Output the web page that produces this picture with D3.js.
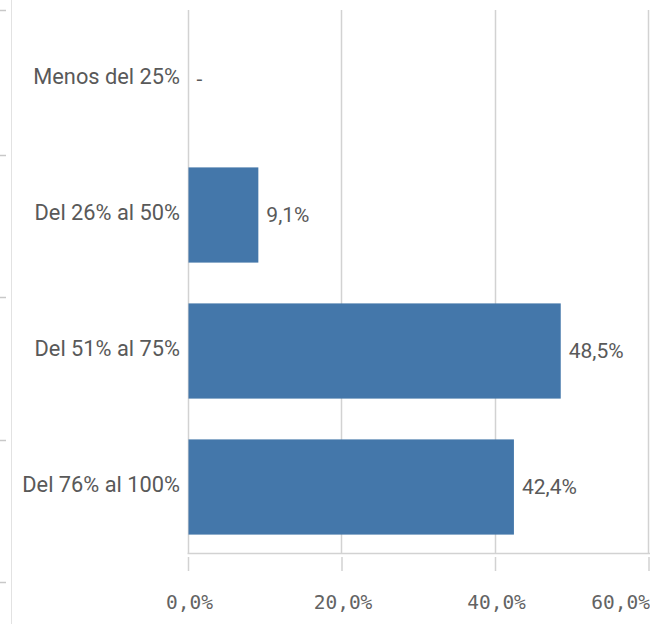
<!DOCTYPE html>
<html>
<head>
<meta charset="utf-8">
<script src="https://cdn.jsdelivr.net/npm/d3@7"></script>
<style>
  html, body { margin: 0; padding: 0; background: #ffffff; }
  svg { display: block; }
</style>
</head>
<body>
<svg id="chart" width="650" height="624"></svg>
<script>
const categories = ["Menos del 25%", "Del 26% al 50%", "Del 51% al 75%", "Del 76% al 100%"];
const values = [null, 9.1, 48.5, 42.4];
const xTicks = [0, 20, 40, 60];

const W = 650, H = 624;
const svg = d3.select("#chart");
const textColor = "#595959";
const gridColor = "#d2d2d2";
const barColor = "#4477aa";

const fmt = v => d3.format(".1f")(v).replace(".", ",") + "%";

const x = d3.scaleLinear().domain([0, 60]).range([188.5, 649]);
const y = d3.scaleBand().domain(categories).range([11, 555]).paddingInner(0.3).paddingOuter(0.15);

const plotTop = 10, plotBottom = 553;

// left-edge fragment of neighbouring panel
svg.append("line").attr("x1", 11.5).attr("x2", 11.5).attr("y1", 0).attr("y2", H)
  .attr("stroke", "#e2e2e2").attr("stroke-width", 1);
[10, 155, 297, 440, 582].forEach(t => {
  svg.append("line").attr("x1", 0).attr("x2", 6).attr("y1", t + 0.5).attr("y2", t + 0.5)
    .attr("stroke", "#c8c8c8").attr("stroke-width", 1.5);
});

// gridlines
const g = svg.append("g");
g.selectAll("line.grid").data(xTicks).join("line")
  .attr("class", "grid")
  .attr("x1", d => Math.round(x(d)) - 0.5).attr("x2", d => Math.round(x(d)) - 0.5)
  .attr("y1", plotTop).attr("y2", plotBottom)
  .attr("stroke", gridColor).attr("stroke-width", 1.5);

// bars
g.selectAll("rect.bar").data(categories.map((c, i) => ({c, v: values[i]})).filter(d => d.v != null)).join("rect")
  .attr("class", "bar")
  .attr("x", x(0))
  .attr("y", d => y(d.c))
  .attr("width", d => x(d.v) - x(0))
  .attr("height", y.bandwidth())
  .attr("fill", barColor);

// value labels
g.selectAll("text.val").data(categories.map((c, i) => ({c, v: values[i]}))).join("text")
  .attr("class", "val")
  .attr("x", d => (d.v == null ? x(0) : x(d.v)) + 8)
  .attr("y", d => y(d.c) + y.bandwidth() / 2 + 7.4)
  .attr("font-family", "Roboto, sans-serif")
  .attr("font-size", 21)
  .attr("fill", textColor)
  .text(d => d.v == null ? "-" : fmt(d.v));

// x axis line
svg.append("line").attr("x1", x(0) - 1).attr("x2", 650).attr("y1", plotBottom + 0.5).attr("y2", plotBottom + 0.5)
  .attr("stroke", gridColor).attr("stroke-width", 1.5);

// x axis ticks
const xAxis = d3.axisBottom(x).tickValues(xTicks).tickSize(14).tickPadding(0).tickFormat(fmt);
const ax = svg.append("g").attr("transform", `translate(-0.5,${plotBottom + 4})`).call(xAxis);
ax.select(".domain").remove();
ax.selectAll(".tick line").attr("stroke", gridColor).attr("stroke-width", 1.5);
ax.selectAll(".tick text")
  .attr("font-family", "'DejaVu Sans Mono', monospace")
  .attr("font-size", 19.5)
  .attr("fill", "#636363")
  .attr("dy", null)
  .attr("y", 52)
  .attr("text-anchor", (d, i) => i === xTicks.length - 1 ? "end" : "middle")
  .attr("dx", 1);

// y axis labels
const yAxis = d3.axisLeft(y).tickSize(0).tickPadding(0);
const ay = svg.append("g").attr("transform", "translate(180,0)").call(yAxis);
ay.select(".domain").remove();
ay.selectAll(".tick text")
  .attr("font-family", "Roboto, sans-serif")
  .attr("font-size", 21.8)
  .attr("fill", textColor)
  .attr("x", 0)
  .attr("dy", "4.5");
</script>
</body>
</html>
